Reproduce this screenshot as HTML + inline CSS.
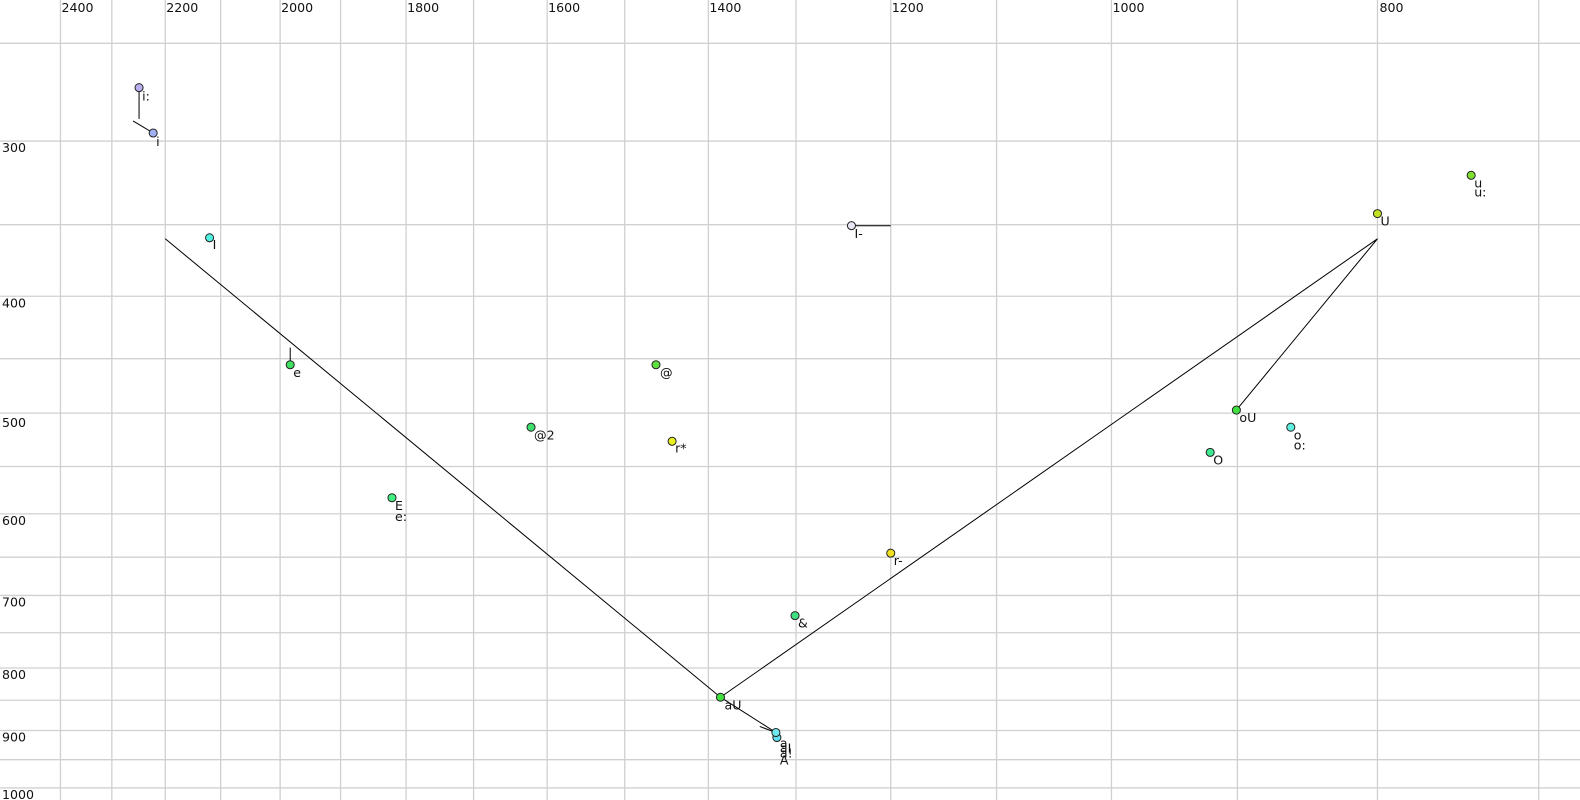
<!DOCTYPE html>
<html><head><meta charset="utf-8"><style>
html,body{margin:0;padding:0;background:#fff;}
svg{display:block;}
text{font-family:"DejaVu Sans","Liberation Sans",sans-serif;font-size:12.5px;fill:#111;}
</style></head><body>
<svg width="1580" height="800" viewBox="0 0 1568 794" preserveAspectRatio="none" xmlns="http://www.w3.org/2000/svg">
<g stroke="#d0d0d0" stroke-width="1.3">
<line x1="60" y1="0" x2="60" y2="800"/><line x1="111" y1="0" x2="111" y2="800"/><line x1="164" y1="0" x2="164" y2="800"/><line x1="219" y1="0" x2="219" y2="800"/><line x1="278" y1="0" x2="278" y2="800"/><line x1="338" y1="0" x2="338" y2="800"/><line x1="403" y1="0" x2="403" y2="800"/><line x1="470" y1="0" x2="470" y2="800"/><line x1="543" y1="0" x2="543" y2="800"/><line x1="620" y1="0" x2="620" y2="800"/><line x1="703" y1="0" x2="703" y2="800"/><line x1="790" y1="0" x2="790" y2="800"/><line x1="884" y1="0" x2="884" y2="800"/><line x1="989" y1="0" x2="989" y2="800"/><line x1="1103" y1="0" x2="1103" y2="800"/><line x1="1228" y1="0" x2="1228" y2="800"/><line x1="1367" y1="0" x2="1367" y2="800"/><line x1="1527" y1="0" x2="1527" y2="800"/>
<line x1="0" y1="43" x2="1580" y2="43"/><line x1="0" y1="140" x2="1580" y2="140"/><line x1="0" y1="223" x2="1580" y2="223"/><line x1="0" y1="294" x2="1580" y2="294"/><line x1="0" y1="356" x2="1580" y2="356"/><line x1="0" y1="410" x2="1580" y2="410"/><line x1="0" y1="463" x2="1580" y2="463"/><line x1="0" y1="510" x2="1580" y2="510"/><line x1="0" y1="553" x2="1580" y2="553"/><line x1="0" y1="591" x2="1580" y2="591"/><line x1="0" y1="628" x2="1580" y2="628"/><line x1="0" y1="663" x2="1580" y2="663"/><line x1="0" y1="695" x2="1580" y2="695"/><line x1="0" y1="725" x2="1580" y2="725"/><line x1="0" y1="754" x2="1580" y2="754"/><line x1="0" y1="782" x2="1580" y2="782"/>
</g>
<g>
<text x="61" y="12">2400</text><text x="165" y="12">2200</text><text x="279" y="12">2000</text><text x="404" y="12">1800</text><text x="544" y="12">1600</text><text x="704" y="12">1400</text><text x="885" y="12">1200</text><text x="1104" y="12">1000</text><text x="1369" y="12">800</text>
<text x="2" y="151">300</text><text x="2" y="305">400</text><text x="2" y="424">500</text><text x="2" y="521">600</text><text x="2" y="602">700</text><text x="2" y="674">800</text><text x="2" y="736">900</text><text x="2" y="793">1000</text>
</g>
<g stroke="#000" stroke-width="1" fill="none">
<polyline points="164,237 715,692 770,727"/>
<polyline points="715,692 1367,237 1227,407"/>
<line x1="138" y1="87" x2="138" y2="118"/>
<line x1="132" y1="120" x2="152" y2="132"/>
<line x1="288" y1="345" x2="288" y2="362"/>
<line x1="754" y1="721" x2="770" y2="727"/>
<line x1="845" y1="224" x2="884" y2="224"/>
</g>
<g stroke="#222" stroke-width="1">
<circle cx="138" cy="87" r="4" fill="#b8b0f0"/>
<circle cx="152" cy="132" r="4" fill="#a0b0f0"/>
<circle cx="208" cy="236" r="4" fill="#50f0e0"/>
<circle cx="288" cy="362" r="4" fill="#40e060"/>
<circle cx="389" cy="494" r="4" fill="#40f080"/>
<circle cx="651" cy="362" r="4" fill="#60e040"/>
<circle cx="527" cy="424" r="4" fill="#40e070"/>
<circle cx="667" cy="438" r="4" fill="#e8f020"/>
<circle cx="845" cy="224" r="4" fill="#e8e8f4"/>
<circle cx="884" cy="549" r="4" fill="#f0e020"/>
<circle cx="789" cy="611" r="4" fill="#40e080"/>
<circle cx="715" cy="692" r="4" fill="#40e040"/>
<circle cx="771" cy="732" r="4" fill="#60e0f0"/>
<circle cx="770" cy="727" r="4" fill="#70e8f0"/>
<circle cx="1367" cy="212" r="4" fill="#c0e020"/>
<circle cx="1460" cy="174" r="4" fill="#80e030"/>
<circle cx="1227" cy="407" r="4" fill="#40e040"/>
<circle cx="1281" cy="424" r="4" fill="#60f0e0"/>
<circle cx="1201" cy="449" r="4" fill="#40e890"/>
</g>
<g>
<text x="141" y="100">i:</text><text x="155" y="145">i</text><text x="211" y="247">I</text><text x="291" y="374">e</text>
<text x="392" y="506">E</text><text x="392" y="517">e:</text>
<text x="655" y="374">@</text><text x="530" y="436">@2</text><text x="670" y="449">r*</text>
<text x="848" y="236">I-</text><text x="887" y="561">r-</text><text x="792" y="623">&amp;</text>
<text x="719" y="704">aU</text>
<text x="774" y="742">a</text><text x="774" y="747">aI</text><text x="774" y="752">a!</text><text x="774" y="759">A</text>
<text x="1370" y="224">U</text><text x="1463" y="186">u</text><text x="1463" y="195">u:</text>
<text x="1230" y="419">oU</text><text x="1284" y="436">o</text><text x="1284" y="446">o:</text><text x="1204" y="461">O</text>
</g>
</svg>
</body></html>
